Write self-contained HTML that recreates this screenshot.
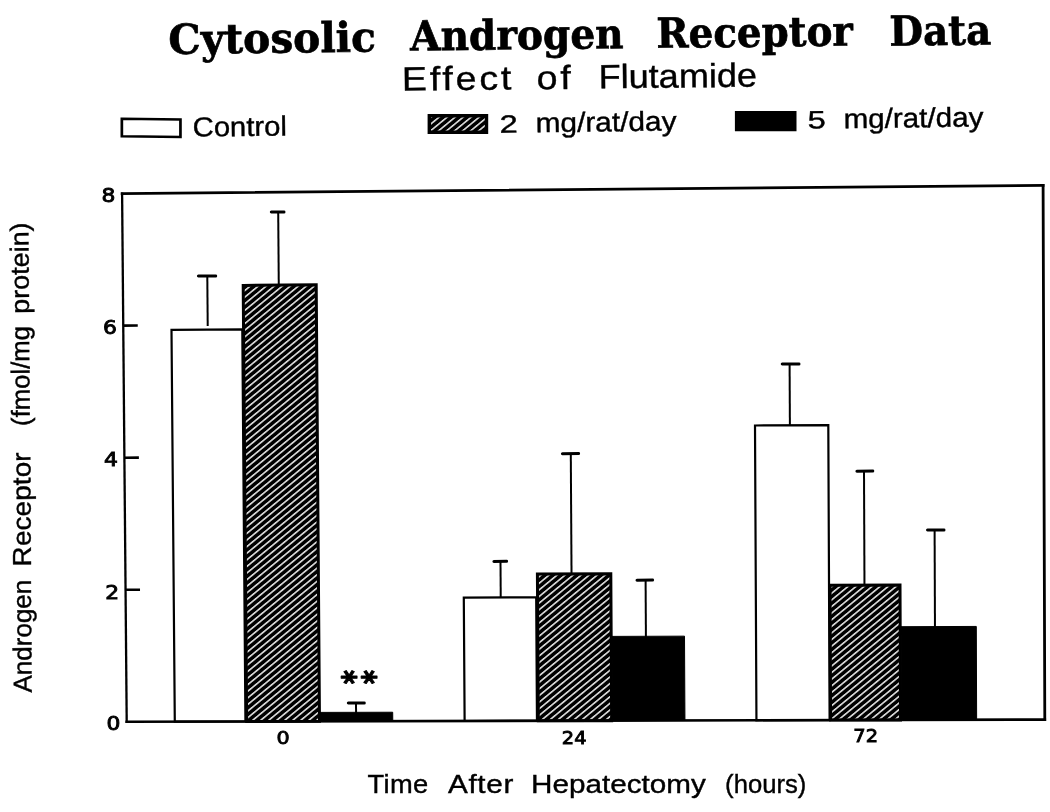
<!DOCTYPE html>
<html lang="en"><head><meta charset="utf-8"><title>Cytosolic Androgen Receptor Data</title>
<style>
html,body{margin:0;padding:0;background:#fff;}
body{width:1050px;height:812px;overflow:hidden;}
svg{display:block;}
.t{font-family:"DejaVu Serif","Liberation Serif",serif;font-weight:bold;fill:#000;}
.s{font-family:"Liberation Sans",sans-serif;fill:#000;stroke:#000;stroke-width:0.4px;}
.d{font-family:"DejaVu Sans","Liberation Sans",sans-serif;fill:#000;}
.b{font-family:"DejaVu Sans","Liberation Sans",sans-serif;font-weight:bold;fill:#000;}
</style></head><body>
<svg width="1050" height="812" viewBox="0 0 1050 812">
<defs>
<pattern id="h" width="5.1" height="5.1" patternUnits="userSpaceOnUse" patternTransform="rotate(-39.5)">
<rect width="5.1" height="5.1" fill="#000"/><rect y="1.8" width="5.1" height="1.4" fill="#fff"/>
</pattern>
</defs>
<rect width="1050" height="812" fill="#fff"/>

<text class="t" x="0" y="0" font-size="41.3" textLength="210.8" lengthAdjust="spacing" transform="translate(168.6 53.9) rotate(-0.65) scale(0.984 1)" stroke="#000" stroke-width="0.7">Cytosolic</text>
<text class="t" x="0" y="0" font-size="41.3" textLength="225.4" lengthAdjust="spacing" transform="translate(410.3 50.6) rotate(-0.65) scale(0.947 1)" stroke="#000" stroke-width="0.7">Androgen</text>
<text class="t" x="0" y="0" font-size="41.3" textLength="209.3" lengthAdjust="spacing" transform="translate(656.5 47.8) rotate(-0.65) scale(0.939 1)" stroke="#000" stroke-width="0.7">Receptor</text>
<text class="t" x="0" y="0" font-size="41.3" textLength="108.4" lengthAdjust="spacing" transform="translate(889.6 45.7) rotate(-0.65) scale(0.939 1)" stroke="#000" stroke-width="0.7">Data</text>
<text class="s" x="0" y="0" font-size="33.5" textLength="97.6" lengthAdjust="spacing" transform="translate(402.1 90.5) rotate(-0.60) scale(1.120 1)">Effect</text>
<text class="s" x="0" y="0" font-size="33.5" textLength="30.5" lengthAdjust="spacing" transform="translate(536.8 89.2) rotate(-0.60) scale(1.120 1)">of</text>
<text class="s" x="0" y="0" font-size="33.5" textLength="147.1" lengthAdjust="spacing" transform="translate(598.7 88.3) rotate(-0.60) scale(1.077 1)">Flutamide</text>
<text class="s" x="0" y="0" font-size="27.5" textLength="88.6" lengthAdjust="spacing" transform="translate(192.8 136.6) rotate(-0.70) scale(1.063 1)">Control</text>
<text class="s" x="0" y="0" font-size="25.0" textLength="14.6" lengthAdjust="spacing" transform="translate(499.8 132.7) rotate(-0.70) scale(1.300 1)">2</text>
<text class="s" x="0" y="0" font-size="27.5" textLength="129.9" lengthAdjust="spacing" transform="translate(535.7 132.2) rotate(-0.70) scale(1.085 1)">mg/rat/day</text>
<text class="s" x="0" y="0" font-size="25.0" textLength="14.2" lengthAdjust="spacing" transform="translate(807.8 128.6) rotate(-0.70) scale(1.300 1)">5</text>
<text class="s" x="0" y="0" font-size="27.5" textLength="129.9" lengthAdjust="spacing" transform="translate(843.7 128.2) rotate(-0.70) scale(1.076 1)">mg/rat/day</text>
<polygon points="121.85,118.75 180.45,119.49 180.45,136.99 121.85,136.25" fill="#fff" stroke="#000" stroke-width="2.7"/>
<polygon points="429.30,115.70 486.50,115.70 486.50,132.30 429.30,132.30" fill="url(#h)" stroke="#000" stroke-width="3.4"/>
<polygon points="735.90,112.00 795.50,112.00 795.50,130.20 735.90,130.20" fill="#000" stroke="#000" stroke-width="2.0"/>
<polygon points="171.50,329.90 242.30,329.38 245.43,721.52 174.80,721.68" fill="#fff" stroke="#000" stroke-width="2.2" stroke-linejoin="miter"/>
<polygon points="243.20,285.40 316.20,284.83 319.49,721.34 246.68,721.51" fill="url(#h)" stroke="#000" stroke-width="3.0" stroke-linejoin="miter"/>
<polygon points="319.94,712.40 392.70,712.22 392.77,721.16 320.01,721.34" fill="#000" stroke="#000" stroke-width="1.0" stroke-linejoin="miter"/>
<polygon points="463.80,597.60 536.20,597.31 536.97,720.82 464.62,720.99" fill="#fff" stroke="#000" stroke-width="2.2" stroke-linejoin="miter"/>
<polygon points="537.40,574.00 610.80,573.69 611.65,720.64 538.31,720.81" fill="url(#h)" stroke="#000" stroke-width="3.0" stroke-linejoin="miter"/>
<polygon points="611.90,636.40 684.50,636.15 684.95,720.46 612.39,720.64" fill="#000" stroke="#000" stroke-width="1.0" stroke-linejoin="miter"/>
<polygon points="755.00,425.50 828.30,425.06 829.62,720.12 756.45,720.29" fill="#fff" stroke="#000" stroke-width="2.2" stroke-linejoin="miter"/>
<polygon points="830.00,585.20 900.00,584.91 900.55,719.95 830.60,720.11" fill="url(#h)" stroke="#000" stroke-width="3.0" stroke-linejoin="miter"/>
<polygon points="901.00,626.70 976.30,626.43 976.64,719.76 901.38,719.94" fill="#000" stroke="#000" stroke-width="1.0" stroke-linejoin="miter"/>
<line x1="207.30" y1="276.00" x2="207.71" y2="326.00" stroke="#000" stroke-width="2"/>
<line x1="198.40" y1="276.08" x2="215.70" y2="275.92" stroke="#000" stroke-width="3" stroke-linecap="round"/>
<line x1="278.20" y1="212.00" x2="278.77" y2="285.00" stroke="#000" stroke-width="2"/>
<line x1="271.30" y1="212.08" x2="284.00" y2="211.92" stroke="#000" stroke-width="3" stroke-linecap="round"/>
<line x1="356.00" y1="703.00" x2="356.07" y2="713.00" stroke="#000" stroke-width="2"/>
<line x1="348.30" y1="703.08" x2="364.30" y2="702.92" stroke="#000" stroke-width="3" stroke-linecap="round"/>
<line x1="500.50" y1="561.40" x2="500.73" y2="597.00" stroke="#000" stroke-width="2"/>
<line x1="493.90" y1="561.48" x2="506.60" y2="561.32" stroke="#000" stroke-width="3" stroke-linecap="round"/>
<line x1="570.80" y1="453.70" x2="571.52" y2="573.00" stroke="#000" stroke-width="2"/>
<line x1="562.40" y1="453.78" x2="578.60" y2="453.62" stroke="#000" stroke-width="3" stroke-linecap="round"/>
<line x1="645.60" y1="580.10" x2="645.92" y2="637.00" stroke="#000" stroke-width="2"/>
<line x1="637.00" y1="580.18" x2="652.60" y2="580.02" stroke="#000" stroke-width="3" stroke-linecap="round"/>
<line x1="789.60" y1="364.00" x2="789.89" y2="425.00" stroke="#000" stroke-width="2"/>
<line x1="782.20" y1="364.08" x2="799.00" y2="363.92" stroke="#000" stroke-width="3" stroke-linecap="round"/>
<line x1="864.00" y1="471.10" x2="864.48" y2="585.00" stroke="#000" stroke-width="2"/>
<line x1="856.90" y1="471.18" x2="872.80" y2="471.02" stroke="#000" stroke-width="3" stroke-linecap="round"/>
<line x1="934.60" y1="530.00" x2="934.97" y2="627.00" stroke="#000" stroke-width="2"/>
<line x1="927.50" y1="530.08" x2="944.00" y2="529.92" stroke="#000" stroke-width="3" stroke-linecap="round"/>
<line x1="122.10" y1="193.60" x2="1043.10" y2="185.30" stroke="#000" stroke-width="2.7" stroke-linecap="square"/>
<line x1="1043.10" y1="185.30" x2="1044.80" y2="719.60" stroke="#000" stroke-width="2.8" stroke-linecap="square"/>
<line x1="1044.80" y1="719.60" x2="126.70" y2="721.80" stroke="#000" stroke-width="2.6" stroke-linecap="square"/>
<line x1="126.70" y1="721.80" x2="122.10" y2="193.60" stroke="#000" stroke-width="2.3" stroke-linecap="square"/>
<line x1="123.25" y1="325.65" x2="137.74" y2="325.54" stroke="#000" stroke-width="2.6"/>
<line x1="124.40" y1="457.70" x2="138.88" y2="457.62" stroke="#000" stroke-width="2.6"/>
<line x1="125.55" y1="589.75" x2="140.02" y2="589.69" stroke="#000" stroke-width="2.6"/>
<text class="d" x="0" y="0" font-size="19.5" text-anchor="middle" stroke="#000" stroke-width="0.9" transform="translate(108.5 202.3) scale(1.12 1)">8</text>
<text class="d" x="0" y="0" font-size="19.5" text-anchor="middle" stroke="#000" stroke-width="0.9" transform="translate(110.0 334.3) scale(1.12 1)">6</text>
<text class="d" x="0" y="0" font-size="19.5" text-anchor="middle" stroke="#000" stroke-width="0.9" transform="translate(111.0 466.0) scale(1.12 1)">4</text>
<text class="d" x="0" y="0" font-size="19.5" text-anchor="middle" stroke="#000" stroke-width="0.9" transform="translate(112.2 598.8) scale(1.12 1)">2</text>
<text class="d" x="0" y="0" font-size="19.5" text-anchor="middle" stroke="#000" stroke-width="0.9" transform="translate(113.5 729.8) scale(1.12 1)">0</text>
<text class="d" x="0" y="0" font-size="18.5" text-anchor="middle" stroke="#000" stroke-width="0.9" transform="translate(283.2 743.6) scale(1.12 1)">0</text>
<text class="d" x="0" y="0" font-size="18.5" text-anchor="middle" stroke="#000" stroke-width="0.9" transform="translate(574.2 743.6) scale(1.05 1)">24</text>
<text class="d" x="0" y="0" font-size="18.5" text-anchor="middle" stroke="#000" stroke-width="0.9" transform="translate(865.7 742.4) scale(1.05 1)">72</text>
<text class="b" x="0" y="0" font-size="33.0" stroke="#000" stroke-width="1.1" stroke-linejoin="round" transform="translate(348.9 677.0) scale(1 0.82) rotate(90) translate(-8.42 17.32)">*</text>
<text class="b" x="0" y="0" font-size="33.0" stroke="#000" stroke-width="1.1" stroke-linejoin="round" transform="translate(369.0 677.0) scale(1 0.82) rotate(90) translate(-8.42 17.32)">*</text>
<text class="s" x="0" y="0" font-size="26.5" textLength="58.9" lengthAdjust="spacing" transform="translate(367.6 793.0) rotate(0.00) scale(1.030 1)">Time</text>
<text class="s" x="0" y="0" font-size="26.5" textLength="58.3" lengthAdjust="spacing" transform="translate(448.0 793.0) rotate(0.00) scale(1.120 1)">After</text>
<text class="s" x="0" y="0" font-size="26.5" textLength="156.1" lengthAdjust="spacing" transform="translate(531.1 793.0) rotate(0.00) scale(1.119 1)">Hepatectomy</text>
<text class="s" x="0" y="0" font-size="26.5" textLength="83.9" lengthAdjust="spacing" transform="translate(725.1 793.0) rotate(0.00) scale(0.968 1)">(hours)</text>
<text class="s" x="0" y="0" font-size="26.0" textLength="112.8" lengthAdjust="spacing" transform="translate(31.7 692.5) rotate(-90.40) scale(1.000 1)">Androgen</text>
<text class="s" x="0" y="0" font-size="26.0" textLength="105.5" lengthAdjust="spacing" transform="translate(31.0 566.4) rotate(-90.40) scale(1.081 1)">Receptor</text>
<text class="s" x="0" y="0" font-size="26.0" textLength="101.1" lengthAdjust="spacing" transform="translate(29.8 425.9) rotate(-90.40) scale(0.988 1)">(fmol/mg</text>
<text class="s" x="0" y="0" font-size="26.0" textLength="88.2" lengthAdjust="spacing" transform="translate(29.0 313.7) rotate(-90.40) scale(1.035 1)">protein)</text>
</svg></body></html>
